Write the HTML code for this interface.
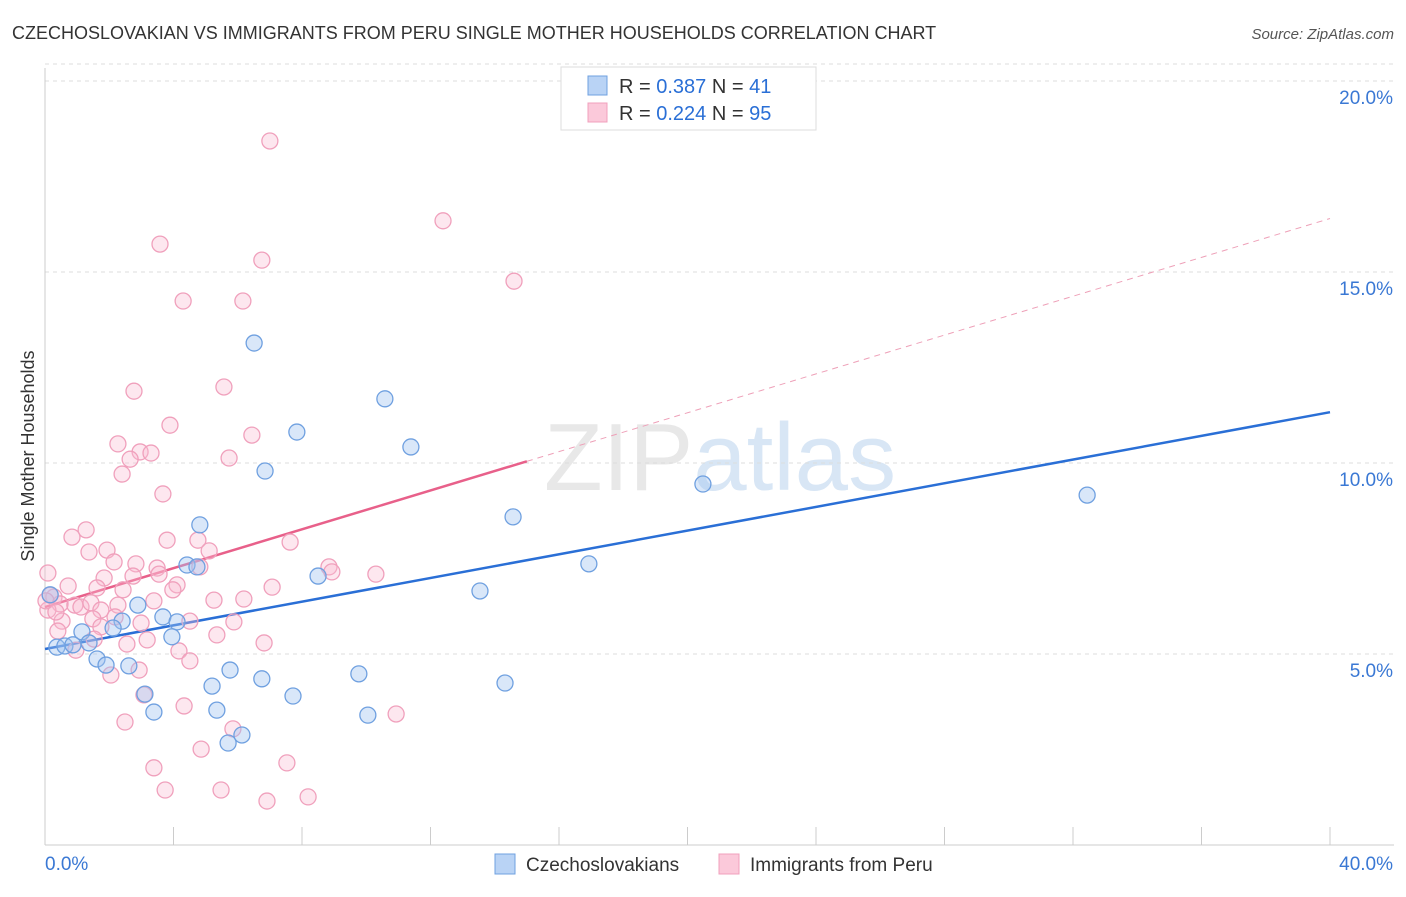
<!DOCTYPE html>
<html><head><meta charset="utf-8"><style>
body{margin:0;background:#fff;font-family:"Liberation Sans",sans-serif;}
svg text{font-family:"Liberation Sans",sans-serif;}
</style></head><body>
<svg id="chart" width="1406" height="892" viewBox="0 0 1406 892" xmlns="http://www.w3.org/2000/svg">
<text x="12" y="39" font-size="18" fill="#333">CZECHOSLOVAKIAN VS IMMIGRANTS FROM PERU SINGLE MOTHER HOUSEHOLDS CORRELATION CHART</text>
<text x="1394" y="39" font-size="15" fill="#555" font-style="italic" text-anchor="end">Source: ZipAtlas.com</text>
<text x="720" y="490" font-size="96" fill="#e8e8e8" text-anchor="middle" font-family="Liberation Serif">ZIP<tspan fill="#d8e6f5" font-family="Liberation Sans">atlas</tspan></text>
<g id="grid"></g>
<g id="axes"></g>
<text transform="translate(34,456) rotate(-90)" font-size="18" fill="#333" text-anchor="middle">Single Mother Households</text>
<g id="trends"></g>
<g id="points"></g>
<g>
<rect x="561" y="67" width="255" height="63" fill="#fff" stroke="#ddd"/>
<rect x="588" y="76" width="19" height="19" fill="#b9d3f5" stroke="#6fa0e0"/>
<text x="619" y="93" font-size="20" fill="#333">R = <tspan fill="#2a6fd6">0.387</tspan>   N = <tspan fill="#2a6fd6">41</tspan></text>
<rect x="588" y="103" width="19" height="19" fill="#fbc9da" stroke="#f0a0bc"/>
<text x="619" y="120" font-size="20" fill="#333">R = <tspan fill="#2a6fd6">0.224</tspan>   N = <tspan fill="#2a6fd6">95</tspan></text>
</g>
<g>
<rect x="495" y="854" width="20" height="20" fill="#b9d3f5" stroke="#6fa0e0"/>
<text x="526" y="871" font-size="19" fill="#333">Czechoslovakians</text>
<rect x="719" y="854" width="20" height="20" fill="#fbc9da" stroke="#f0a0bc"/>
<text x="750" y="871" font-size="19" fill="#333">Immigrants from Peru</text>
</g>
</svg>
<script>
const yTicks=[5,10,15,20];
const yTickLabels=["5.0%","10.0%","15.0%","20.0%"];
const xTicks=[0,4,8,12,16,20,24,28,32,36,40];
const xEndLabels=["0.0%","40.0%"];
const czX=[6.51,10.58,7.84,11.39,6.85,20.48,32.44,14.57,4.82,16.93,4.42,4.73,8.50,13.54,2.89,3.67,4.11,2.40,2.12,1.15,3.95,0.37,0.62,0.87,1.37,1.62,1.90,2.61,5.76,9.77,6.75,5.20,14.32,7.72,3.11,3.39,5.35,10.05,6.13,5.70,0.16];
const czY=[13.14,11.68,10.81,10.42,9.79,9.45,9.16,8.59,8.38,7.36,7.33,7.28,7.04,6.65,6.28,5.97,5.84,5.86,5.68,5.58,5.45,5.18,5.21,5.24,5.29,4.87,4.71,4.69,4.58,4.48,4.35,4.16,4.24,3.90,3.95,3.48,3.53,3.40,2.88,2.67,6.55];
const peX=[7.00,12.39,3.58,6.75,14.60,4.30,6.16,2.77,5.57,3.89,6.44,2.27,2.96,3.30,2.65,5.73,2.40,3.67,1.28,0.84,3.80,4.76,7.63,1.37,1.93,5.11,2.83,2.15,3.49,4.82,8.84,8.93,10.30,0.09,1.84,2.74,3.55,7.07,4.11,0.72,1.62,2.43,3.98,0.28,0.47,0.93,1.12,1.43,1.74,2.27,3.39,5.26,6.19,0.09,0.53,1.49,2.18,2.99,4.51,5.88,0.40,1.74,3.18,5.35,2.55,1.53,4.17,6.82,0.96,4.51,2.93,2.05,4.33,3.08,10.93,2.49,5.85,4.86,3.39,7.53,3.74,5.48,8.19,6.91,0.16,0.03,0.34];
const peY=[18.43,16.34,15.73,15.31,14.76,14.24,14.24,11.88,11.99,10.99,10.73,10.50,10.29,10.26,10.10,10.13,9.71,9.19,8.25,8.06,7.98,7.98,7.93,7.67,7.72,7.70,7.36,7.41,7.25,7.28,7.28,7.15,7.09,7.12,6.99,7.04,7.09,6.75,6.81,6.78,6.73,6.68,6.68,6.49,6.31,6.28,6.23,6.34,6.15,6.28,6.39,6.41,6.44,6.15,5.86,5.92,5.97,5.81,5.86,5.84,5.60,5.71,5.37,5.50,5.26,5.39,5.08,5.29,5.10,4.82,4.58,4.45,3.64,3.93,3.43,3.22,3.04,2.51,2.02,2.15,1.44,1.44,1.26,1.15,6.54,6.39,6.10];
const czTrend=[5.13,11.33];
const peTrend=[6.23,16.4];
const peSolidEnd=15;

const NS="http://www.w3.org/2000/svg";
const X0=45,X1=1330,Y0=845,YPX=191/5;
function sx(v){return X0+(v/40)*(X1-X0);}
function sy(v){return Y0-v*YPX;}
function mk(tag,attrs,parent){const e=document.createElementNS(NS,tag);for(const k in attrs)e.setAttribute(k,attrs[k]);parent.appendChild(e);return e;}
const grid=document.getElementById('grid'),axes=document.getElementById('axes'),trends=document.getElementById('trends'),pts=document.getElementById('points');
yTicks.forEach((t,i)=>{
 const l=mk('line',{x1:X0,x2:1394,y1:sy(t),y2:sy(t),stroke:'#ddd','stroke-dasharray':'4,4'},grid);
 
 
 const tx=mk('text',{x:1393,y:sy(t)+23,'font-size':19,fill:'#3a78d4','text-anchor':'end'},axes);
 tx.textContent=yTickLabels[i];
 
 
});
const tl=mk('line',{x1:X0,x2:1394,y1:sy(20)-17,y2:sy(20)-17,stroke:'#ddd','stroke-dasharray':'4,4'},grid);


const ya=mk('line',{x1:X0,x2:X0,y1:68,y2:Y0,stroke:'#ccc'},axes);


const xa=mk('line',{x1:X0,x2:1394,y1:Y0,y2:Y0,stroke:'#ccc'},axes);


xTicks.forEach(t=>{
 const l=mk('line',{x1:sx(t),x2:sx(t),y1:Y0,y2:Y0-18,stroke:'#ccc'},axes);
 
 
});
const xl0=mk('text',{x:45,y:870,'font-size':19,fill:'#3a78d4'},axes);xl0.textContent=xEndLabels[0];


const xl1=mk('text',{x:1393,y:870,'font-size':19,fill:'#3a78d4','text-anchor':'end'},axes);xl1.textContent=xEndLabels[1];



pts.appendChild(document.createComment('points'));
peX.forEach((x,i)=>{
 const c=mk('circle',{cx:sx(x),cy:sy(peY[i]),r:8,fill:'rgba(248,185,208,0.35)',stroke:'#f0a0bc','stroke-width':1.3},pts);
 
 
});
czX.forEach((x,i)=>{
 const c=mk('circle',{cx:sx(x),cy:sy(czY[i]),r:8,fill:'rgba(160,195,240,0.4)',stroke:'#6fa0e0','stroke-width':1.3},pts);
 
 
});
const bt=mk('line',{x1:sx(0),y1:sy(czTrend[0]),x2:sx(40),y2:sy(czTrend[1]),stroke:'#2a6fd6','stroke-width':2.5},trends);


const pm=peTrend[0]+(peTrend[1]-peTrend[0])*peSolidEnd/40;
const pt=mk('line',{x1:sx(0),y1:sy(peTrend[0]),x2:sx(peSolidEnd),y2:sy(pm),stroke:'#e8608a','stroke-width':2.5},trends);


const pd=mk('line',{x1:sx(peSolidEnd),y1:sy(pm),x2:sx(40),y2:sy(peTrend[1]),stroke:'#eea0b8','stroke-width':1,'stroke-dasharray':'6,5'},trends);


</script>
</body></html>
